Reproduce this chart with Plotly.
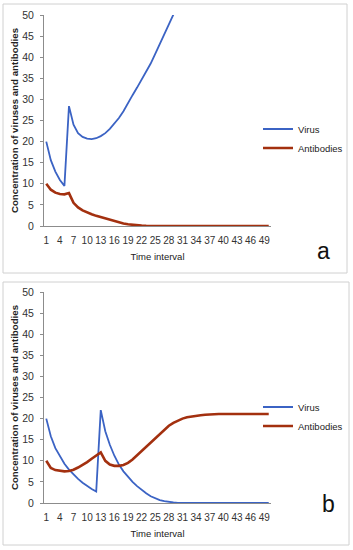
import plotly.graph_objects as go

# ---------------- data ----------------
time_a = list(range(1, 51))
virus_a = [20.0, 15.6, 12.9, 10.9, 9.5, 28.4, 24.0, 22.0, 21.1, 20.7,
           20.6, 20.8, 21.3, 22.0, 23.0, 24.2, 25.6, 27.2, 29.2, 31.0,
           32.8, 34.6, 36.5, 38.5, 40.8, 43.1, 45.5, 47.8, 50.1]
antibodies_a = [10.0, 8.6, 7.9, 7.6, 7.5, 7.8, 5.5, 4.4, 3.7, 3.2,
                2.8, 2.4, 2.1, 1.7, 1.4, 1.1, 0.8, 0.6, 0.4, 0.25,
                0.15, 0.08, 0.04] + [0.0] * 27

time_b = list(range(1, 51))
virus_b = [20.0, 15.8, 13.0, 11.0, 9.3, 7.9, 6.7, 5.7, 4.8, 4.0,
           3.3, 2.7, 22.0, 17.0, 13.8, 11.2, 9.1, 7.5, 6.2, 5.0,
           4.0, 3.1, 2.3, 1.6, 1.1, 0.7, 0.45, 0.25, 0.12, 0.05] + [0.0] * 20
antibodies_b = [10.0, 8.3, 7.8, 7.6, 7.5, 7.6, 7.9, 8.4, 9.0, 9.7,
                10.5, 11.3, 12.0, 10.0, 9.1, 8.8, 8.8, 9.0, 9.5, 10.3,
                11.3, 12.4, 13.4, 14.3, 15.3, 16.3, 17.3, 18.3, 19.0, 19.6,
                20.0, 20.3, 20.5, 20.7, 20.8, 20.9, 21.0, 21.0, 21.1, 21.1,
                21.1, 21.1, 21.1, 21.1, 21.1, 21.1, 21.1, 21.1, 21.1, 21.1]

x_ticks = list(range(1, 51, 3))
y_ticks = list(range(0, 51, 5))
series_names = ["Virus", "Antibodies"]
panel_labels = ["a", "b"]
x_title = "Time interval"
y_title = "Concentration of viruses and antibodies"

# ---------------- style ----------------
W, H = 353, 550
FONT = "Liberation Sans, Arial, sans-serif"
BLUE = "#3b63c4"
RED = "#a3300f"
AXIS = "#8c8c8c"


def py(p):
    return 1 - p / H


def px(p):
    return p / W


fig = go.Figure()

fig.add_trace(go.Scatter(x=time_a[:len(virus_a)], y=virus_a, mode="lines", name=series_names[0],
                         line=dict(color=BLUE, width=1.8), xaxis="x", yaxis="y", legend="legend"))
fig.add_trace(go.Scatter(x=time_a, y=antibodies_a, mode="lines", name=series_names[1],
                         line=dict(color=RED, width=2.6), xaxis="x", yaxis="y", legend="legend"))
fig.add_trace(go.Scatter(x=time_b, y=virus_b, mode="lines", name=series_names[0],
                         line=dict(color=BLUE, width=1.8), xaxis="x2", yaxis="y2", legend="legend2"))
fig.add_trace(go.Scatter(x=time_b, y=antibodies_b, mode="lines", name=series_names[1],
                         line=dict(color=RED, width=2.6), xaxis="x2", yaxis="y2", legend="legend2"))

xdom = [px(44), px(271)]
ydom_a = [py(226), py(15)]
ydom_b = [py(503), py(292)]

xcommon = dict(range=[0.5, 50.5], tickmode="array", tickvals=x_ticks, showgrid=False,
               zeroline=False, showline=True, linecolor=AXIS, linewidth=1, ticks="",
               tickangle=0, automargin=False, ticklabelstandoff=5,
               tickfont=dict(family=FONT, size=10, color="#333333"),
               title=dict(text=x_title, font=dict(family=FONT, size=9.5, color="#222222"), standoff=8),
               fixedrange=True)
ycommon = dict(range=[0, 50], tickmode="array", tickvals=y_ticks, showgrid=False,
               zeroline=False, showline=True, linecolor=AXIS, linewidth=1, ticks="outside",
               ticklen=3, tickcolor=AXIS, automargin=False, ticklabelstandoff=4,
               tickfont=dict(family=FONT, size=10.5, color="#333333"),
               title=dict(text="<b>" + y_title + "</b>", font=dict(family=FONT, size=9.7, color="#222222"),
                          standoff=1),
               fixedrange=True)

fig.update_layout(
    width=W, height=H,
    margin=dict(l=0, r=0, t=0, b=0, autoexpand=False),
    paper_bgcolor="white", plot_bgcolor="white",
    xaxis=dict(domain=xdom, anchor="y", **xcommon),
    yaxis=dict(domain=ydom_a, anchor="x", **ycommon),
    xaxis2=dict(domain=xdom, anchor="y2", **xcommon),
    yaxis2=dict(domain=ydom_b, anchor="x2", **ycommon),
    legend=dict(x=px(258), y=py(138.5), xanchor="left", yanchor="middle",
                font=dict(family=FONT, size=9.5, color="#222222"), bgcolor="rgba(0,0,0,0)",
                itemwidth=30, tracegroupgap=0),
    legend2=dict(x=px(258), y=py(416.5), xanchor="left", yanchor="middle",
                 font=dict(family=FONT, size=9.5, color="#222222"), bgcolor="rgba(0,0,0,0)",
                 itemwidth=30, tracegroupgap=0),
    showlegend=True,
)

# panel frames
fig.add_shape(type="rect", xref="paper", yref="paper", x0=px(3), x1=px(347), y0=py(273), y1=py(4),
              line=dict(color="#d0d0d0", width=1))
fig.add_shape(type="rect", xref="paper", yref="paper", x0=px(3), x1=px(349), y0=py(545), y1=py(282),
              line=dict(color="#d0d0d0", width=1))

# panel letters
fig.add_annotation(text=panel_labels[0], xref="paper", yref="paper", x=px(332), y=py(251),
                   showarrow=False, font=dict(family=FONT, size=23, color="#111111"))
fig.add_annotation(text=panel_labels[1], xref="paper", yref="paper", x=px(337), y=py(519),
                   showarrow=False, font=dict(family=FONT, size=23, color="#111111"))

fig.write_html("out.html", config={"displayModeBar": False},
               post_script="document.body.style.margin='0';")
